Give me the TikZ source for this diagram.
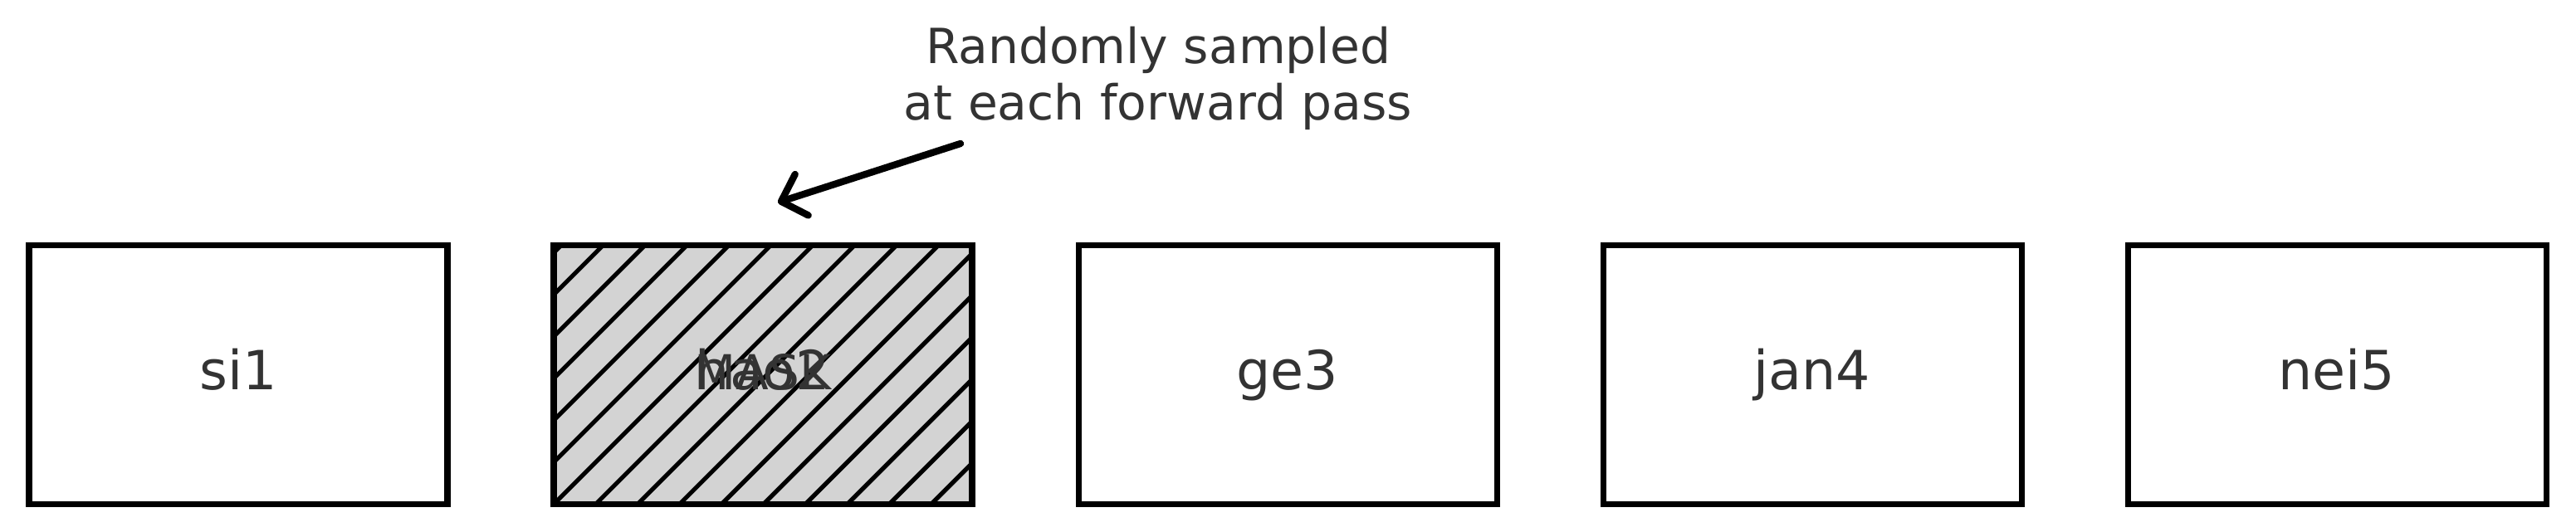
\documentclass[tikz,border=0pt]{standalone}
\usepackage{fontspec}
\setmainfont{DejaVu Sans}
\usepackage{tikz}
\usetikzlibrary{arrows.meta,positioning}

\definecolor{inkgray}{HTML}{333333}
\definecolor{maskfill}{HTML}{D3D3D3}

\tikzset{
    tok/.style={draw, line width=2pt, minimum width=5.04cm, minimum height=3.12cm,
        inner sep=0pt, outer sep=0pt, text=inkgray, font=\fontsize{18.5}{22}\selectfont,
        text height=1em, text depth=0pt},
    masked/.style={tok, fill=maskfill, path picture={
        \foreach \k in {-7,...,10}
            \draw[line width=1.5pt] ([xshift=\k*0.505cm]path picture bounding box.south west) -- ++(3.6,3.6);
    }},
    pointer/.style={line width=2.37pt, line cap=round, -{Straight Barb[length=2.6mm,width=5.2mm,line cap=round,line join=round]}}
}

\begin{document}
\begin{tikzpicture}
\useasboundingbox (0,0) rectangle (31.03,6.40);

% 五个词元
\node[tok] (tok1) at (2.87,1.885) {si1};
\node[masked, right=1.28cm of tok1] (tok2) {hao2};
\node[tok, right=1.28cm of tok2] (tok3) {ge3};
\node[tok, right=1.28cm of tok3] (tok4) {jan4};
\node[tok, right=1.28cm of tok4] (tok5) {nei5};

% 被遮住的词元上再叠一个MASK
\node[text=inkgray, font=\fontsize{16.5}{20}\selectfont, text height=1em, text depth=0pt, inner sep=0pt] (maskword) at (tok2) {MASK};

% 说明文字和箭头
\node[text=inkgray, align=center, font=\fontsize{16.6}{19.3}\selectfont] (note) at (13.95,5.46) {Randomly sampled\\at each forward pass};
\coordinate (tail) at (11.57,4.67);
\coordinate (tip) at (9.37,3.96);
\draw[pointer] (tail) -- (tip);
\end{tikzpicture}
\end{document}
